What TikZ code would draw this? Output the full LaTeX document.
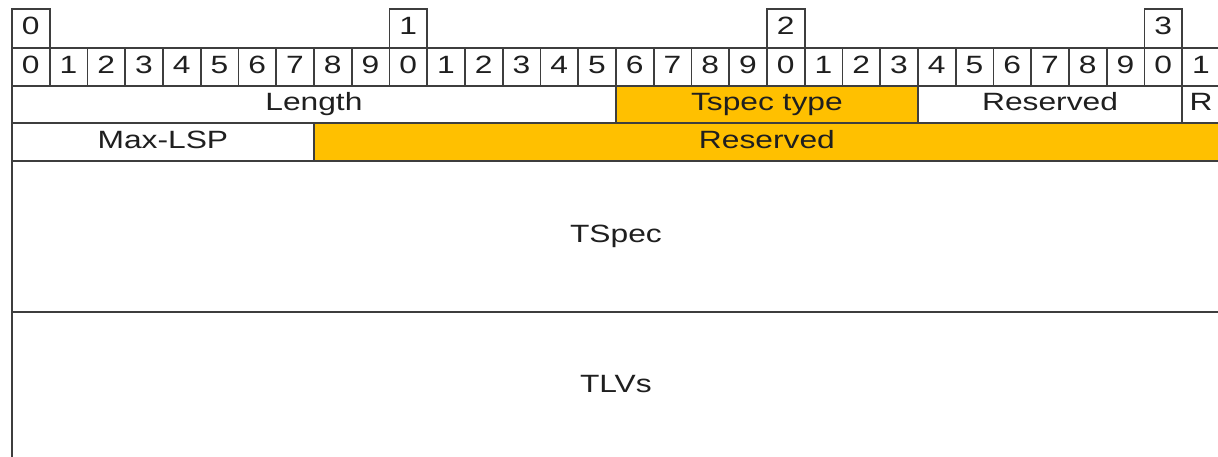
\documentclass[tikz,border=0pt]{standalone}
\usepackage{fontspec}
\setmainfont{Liberation Sans}[FakeStretch=1.27]
\definecolor{fieldorange}{HTML}{FFC000}
\definecolor{linegray}{HTML}{3E3E3E}
\begin{document}
\begin{tikzpicture}[x=1pt,y=-1pt,
  cell/.style={draw=linegray, line width=1.8pt, inner sep=0pt, anchor=north west,
    font=\fontsize{25}{28}\selectfont, text=black!88, fill=white,
    text height=18pt, text depth=5pt},
  orangecell/.style={cell, fill=fieldorange}]
\useasboundingbox (0,0) rectangle (1218,457);
\clip (0,0) rectangle (1218,457);
\def\w{37.75}
% top decade boxes
\foreach \i/\n in {0/0,10/1,20/2,30/3}
  \node[cell, minimum width=\w pt, minimum height=39pt] (top\n) at ({11+\i*\w},8) {\n};
% bit numbers
\foreach \i in {0,...,31}{
  \pgfmathtruncatemacro\d{mod(\i,10)}
  \node[cell, minimum width=\w pt, minimum height=38pt] (b\i) at ({11+\i*\w},47) {\d};
}
% row 1
\node[cell, minimum width=16*\w pt, minimum height=37pt] (length) at (11,85) {Length};
\node[orangecell, minimum width=8*\w pt, minimum height=37pt] (tspectype) at ({11+16*\w},85) {Tspec type};
\node[cell, minimum width=7*\w pt, minimum height=37pt] (res1) at ({11+24*\w},85) {Reserved};
\node[cell, minimum width=\w pt, minimum height=37pt] (rbit) at ({11+31*\w},85) {R};
% row 2
\node[cell, minimum width=8*\w pt, minimum height=38pt] (maxlsp) at (11,122) {Max-LSP};
\node[orangecell, minimum width=24*\w pt, minimum height=38pt] (res2) at ({11+8*\w},122) {Reserved};
% TSpec
\node[cell, minimum width=32*\w pt, minimum height=151pt] (tspec) at (11,160) {TSpec};
% TLVs
\node[cell, minimum width=32*\w pt, minimum height=149pt] (tlvs) at (11,311) {TLVs};
\end{tikzpicture}
\end{document}
